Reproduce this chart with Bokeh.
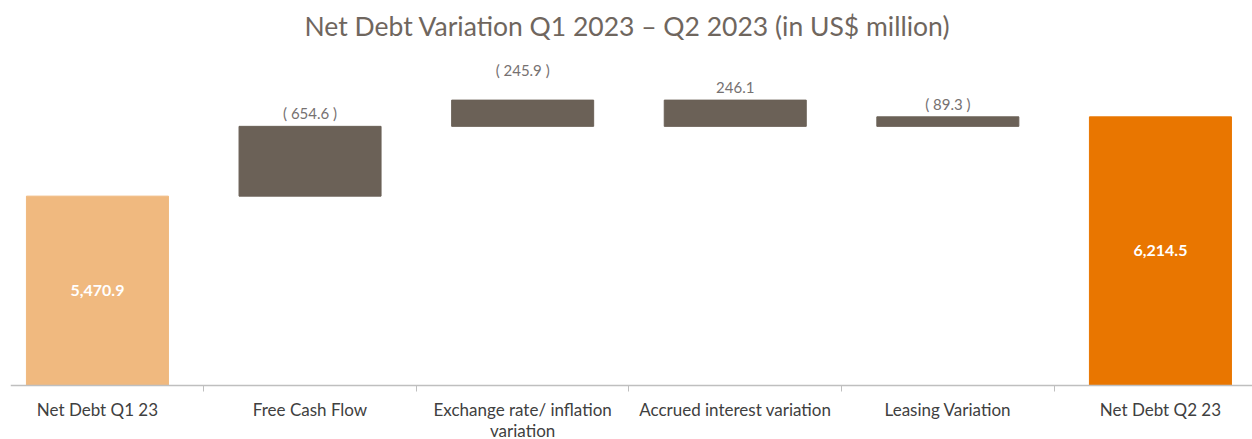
from bokeh.plotting import figure
from bokeh.models import Range1d, FixedTicker, ColumnDataSource
from bokeh.core.properties import value
from bokeh.embed import file_html
from bokeh.resources import INLINE

# ---- data ----
categories = ["Net Debt Q1 23", "Free Cash Flow", "Exchange rate/ inflation\nvariation",
              "Accrued interest variation", "Leasing Variation", "Net Debt Q2 23"]
start_value = 5470.9
end_value = 6214.5
changes = [654.6, 245.9, -246.1, 89.3]
change_labels = ["( 654.6 )", "( 245.9 )", "246.1", "( 89.3 )"]
title_text = "Net Debt Variation Q1 2023 \u2013 Q2 2023 (in US$ million)"
y_axis_min = 3700

# ---- layout / styles ----
W, H = 1252, 439
AXIS_PX = 384.5          # pixel row of the category axis
PX_PER_UNIT = 0.10664    # vertical scale
TITLE_PX = 25.5          # pixel row of the title centre
label_offsets_px = [13, 30.5, 13, 13]
c_start, c_step, c_end = "#F0B97F", "#6B6157", "#E97600"
title_color = "#6F665E"
FONT = "Lato"


def py_to_y(py):
    return y_axis_min + (AXIS_PX - py) / PX_PER_UNIT


p = figure(width=W, height=H, output_backend="svg", toolbar_location=None,
           x_range=Range1d(-0.409, 5.433), y_range=Range1d(py_to_y(H), py_to_y(0)),
           y_axis_location=None, min_border_left=10, min_border_right=0,
           min_border_top=0, min_border_bottom=0)
p.title.visible = False
p.grid.visible = False
p.outline_line_color = None

# title
p.text(x=[2.493], y=[py_to_y(TITLE_PX)], text=[title_text], text_align="center",
       text_baseline="middle", text_color=title_color, text_font=value(FONT),
       text_font_size="26.5px")

# totals
tot = ColumnDataSource(dict(x=[0, len(categories) - 1], top=[start_value, end_value],
                            bottom=[y_axis_min, y_axis_min], color=[c_start, c_end],
                            mid=[(start_value + y_axis_min) / 2, (end_value + y_axis_min) / 2],
                            lab=[f"{start_value:,.1f}", f"{end_value:,.1f}"]))
p.vbar(x="x", top="top", bottom="bottom", width=0.668, color="color", source=tot)
p.text(x="x", y="mid", text="lab", source=tot, text_align="center", text_baseline="middle",
       text_color="white", text_font=value(FONT), text_font_style="bold", text_font_size="16px")

# steps
xs, bots, tops = [], [], []
level = start_value
for i, ch in enumerate(changes):
    new = level + ch
    xs.append(i + 1)
    bots.append(min(level, new))
    tops.append(max(level, new))
    level = new
steps = ColumnDataSource(dict(x=xs, bottom=bots, top=tops, lab=change_labels,
                              off=[-o for o in label_offsets_px]))
p.vbar(x="x", top="top", bottom="bottom", width=0.668, color=c_step, source=steps)
p.text(x="x", y="top", y_offset="off", text="lab", source=steps, text_align="center",
       text_baseline="middle", text_color="#767171", text_font=value(FONT), text_font_size="15px")

# category axis fixed at the bars' base
ax = p.xaxis[0]
ax.fixed_location = y_axis_min
ax.ticker = FixedTicker(ticks=list(range(len(categories))),
                        minor_ticks=[i + 0.5 for i in range(len(categories) - 1)])
ax.major_label_overrides = {i: c for i, c in enumerate(categories)}
ax.major_tick_line_color = None
ax.major_tick_out = 0
ax.major_tick_in = 0
ax.minor_tick_line_color = "#BFBFBF"
ax.minor_tick_out = 6
ax.minor_tick_in = 0
ax.axis_line_color = "#BFBFBF"
ax.axis_line_width = 1.5
ax.major_label_text_font = FONT
ax.major_label_text_font_size = "17px"
ax.major_label_text_color = "#404040"
ax.major_label_text_line_height = 1.0
ax.major_label_standoff = 8

open("out.html", "w").write(file_html(p, INLINE))
